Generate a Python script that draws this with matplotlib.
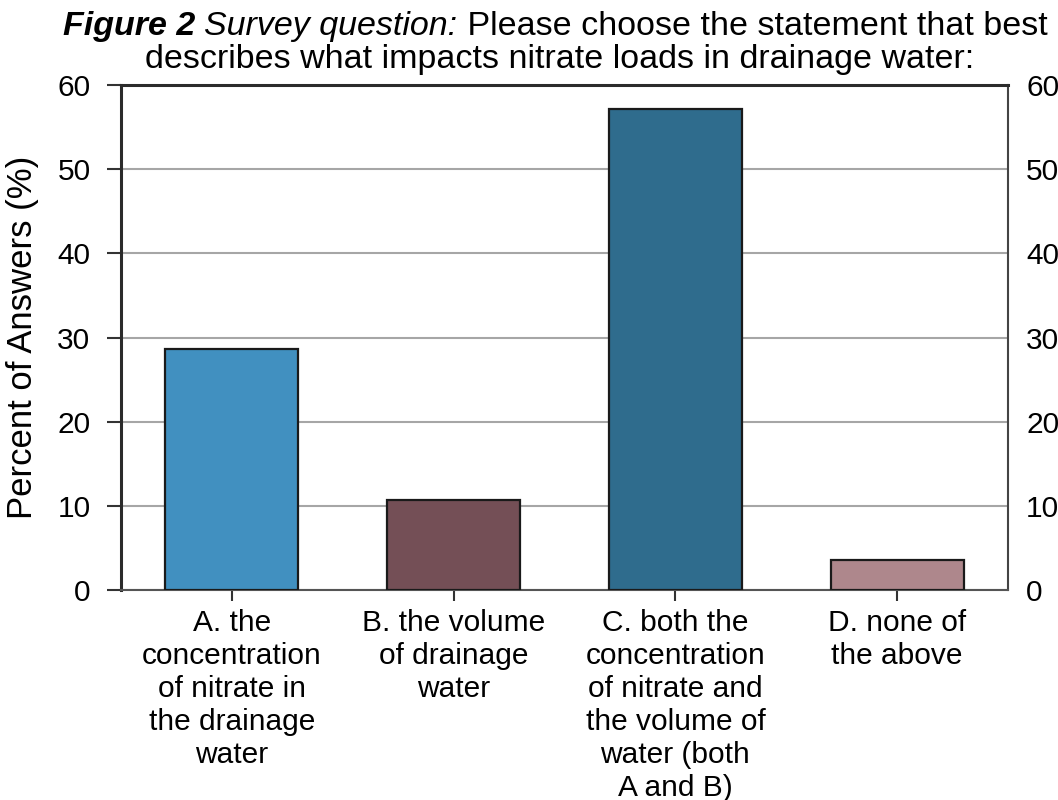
import matplotlib
matplotlib.use("Agg")
import matplotlib.pyplot as plt

plt.rcParams["font.family"] = ["Liberation Sans", "DejaVu Sans"]

categories = [
    "A. the\nconcentration\nof nitrate in\nthe drainage\nwater",
    "B. the volume\nof drainage\nwater",
    "C. both the\nconcentration\nof nitrate and\nthe volume of\nwater (both\nA and B)",
    "D. none of\nthe above",
]
percents = [28.6, 10.7, 57.1, 3.6]
bar_colors = ["#4190c0", "#744f56", "#2f6c8d", "#ae878c"]
y_ticks = [0, 10, 20, 30, 40, 50, 60]

title_pieces = [
    ("Figure 2 ", "bold", "italic"),
    ("Survey question:", "normal", "italic"),
    (" Please choose the statement that best", "normal", "normal"),
]
title_line2 = "describes what impacts nitrate loads in drainage water:"

TICK_FS = 21.5
TITLE_FS = 24.5

fig = plt.figure(figsize=(10.58, 8), dpi=100)
ax = fig.add_axes([121 / 1058, 1 - 590 / 800, (1008 - 121) / 1058, (590 - 85) / 800])

x = list(range(len(categories)))
ax.bar(x, percents, width=0.6, color=bar_colors, edgecolor="#1a1a1a", linewidth=1.6, zorder=3)

ax.set_xlim(-0.5, len(categories) - 0.5)
ax.set_ylim(0, 60)
ax.set_yticks(y_ticks)
ax.yaxis.grid(True, color="#a6a6a6", linewidth=1.5, zorder=0)
ax.set_axisbelow(True)

ax.set_xticks(x)
ax.set_xticklabels(categories, fontsize=TICK_FS, linespacing=1.22, va="top")
ax.tick_params(axis="x", direction="out", length=8, width=1.5, color="#333333", pad=6)
ax.tick_params(axis="y", direction="out", length=10, width=1.5, color="#333333",
               labelsize=TICK_FS, pad=12)

# right side labels, no tick marks
ax2 = ax.twinx()
ax2.set_ylim(0, 60)
ax2.set_yticks(y_ticks)
ax2.tick_params(axis="y", length=0, labelsize=TICK_FS, pad=13)
for sp in ax2.spines.values():
    sp.set_visible(False)

for side in ["left", "top"]:
    ax.spines[side].set_linewidth(2.2)
    ax.spines[side].set_color("#2b2b2b")
ax.spines["right"].set_linewidth(1.5)
ax.spines["right"].set_color("#444444")
ax.spines["bottom"].set_linewidth(1.5)
ax.spines["bottom"].set_color("#555555")

ax.set_ylabel("Percent of Answers (%)", fontsize=25)
ax.yaxis.set_label_coords(-0.092, 0.5)

# title: first line has mixed styles, place the pieces one after another
renderer = fig.canvas.get_renderer()
texts = []
for s, w, st in title_pieces:
    t = fig.text(0, 1 - 35 / 800, s, fontsize=TITLE_FS, fontweight=w, fontstyle=st,
                 va="baseline", ha="left")
    texts.append(t)
widths = [t.get_window_extent(renderer).width for t in texts]
total = sum(widths)
xpos = 555 - total / 2
for t, wd in zip(texts, widths):
    t.set_x(xpos / 1058)
    xpos += wd
fig.text(560 / 1058, 1 - 68 / 800, title_line2, fontsize=TITLE_FS, ha="center", va="baseline")

fig.savefig("out.png", dpi=100)
